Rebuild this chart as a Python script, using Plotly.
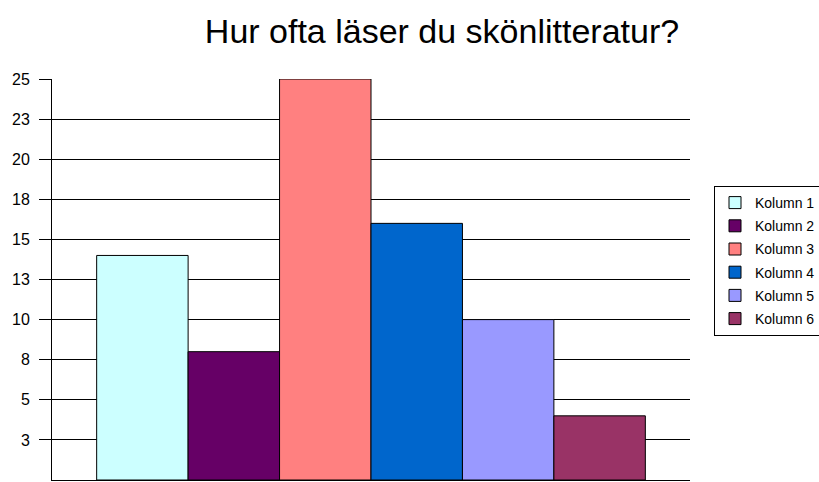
import plotly.graph_objects as go

title = "Hur ofta läser du skönlitteratur?"
series_names = ["Kolumn 1", "Kolumn 2", "Kolumn 3", "Kolumn 4", "Kolumn 5", "Kolumn 6"]
series_values = [14, 8, 25, 16, 10, 4]
colors = ["#ccffff", "#660066", "#ff8080", "#0066cc", "#9999ff", "#993366"]
tick_vals = [2.5, 5, 7.5, 10, 12.5, 15, 17.5, 20, 22.5, 25]
tick_text = ["3", "5", "8", "10", "13", "15", "18", "20", "23", "25"]
category = [""]

fig = go.Figure()
for name, val, col in zip(series_names, series_values, colors):
    fig.add_trace(go.Bar(
        x=category, y=[val], name=name, legendgroup=name,
        marker=dict(color=col, line=dict(color="#000000", width=1)),
    ))

W, H = 819, 482
fig.update_layout(
    width=W, height=H,
    margin=dict(l=52, r=W - 690, t=79, b=H - 480, autoexpand=False),
    paper_bgcolor="white", plot_bgcolor="white",
    barmode="group", bargap=0.14, bargroupgap=0,
    font=dict(family="Liberation Sans, Arial, sans-serif", color="#000000"),
    title=dict(text=title, x=442 / W, xanchor="center", y=1 - 31 / H,
               yanchor="middle", font=dict(size=34, color="#000000")),
    showlegend=True,
    legend=dict(xref="container", yref="container", x=714 / W, xanchor="left",
                y=1 - 261 / H, yanchor="middle",
                bordercolor="#000000", borderwidth=1, bgcolor="white",
                font=dict(size=14), itemwidth=30, traceorder="grouped",
                tracegroupgap=2),
    xaxis=dict(showticklabels=False, showline=True, linecolor="#000000", linewidth=1,
               ticks="", showgrid=False, zeroline=False, fixedrange=True,
               automargin=False),
    yaxis=dict(range=[0, 25], tickvals=tick_vals, ticktext=tick_text,
               showline=True, linecolor="#000000", linewidth=1,
               ticks="outside", ticklen=12, tickcolor="#000000",
               showgrid=True, gridcolor="#000000", gridwidth=1, zeroline=False,
               tickfont=dict(size=16), ticklabelstandoff=6, automargin=False),
)

fig.write_html(
    "out.html",
    config={"displayModeBar": False},
    post_script=(
        "document.body.style.margin='0';"
        "document.body.style.overflow='hidden';"
        "document.documentElement.style.overflow='hidden';"
    ),
)
